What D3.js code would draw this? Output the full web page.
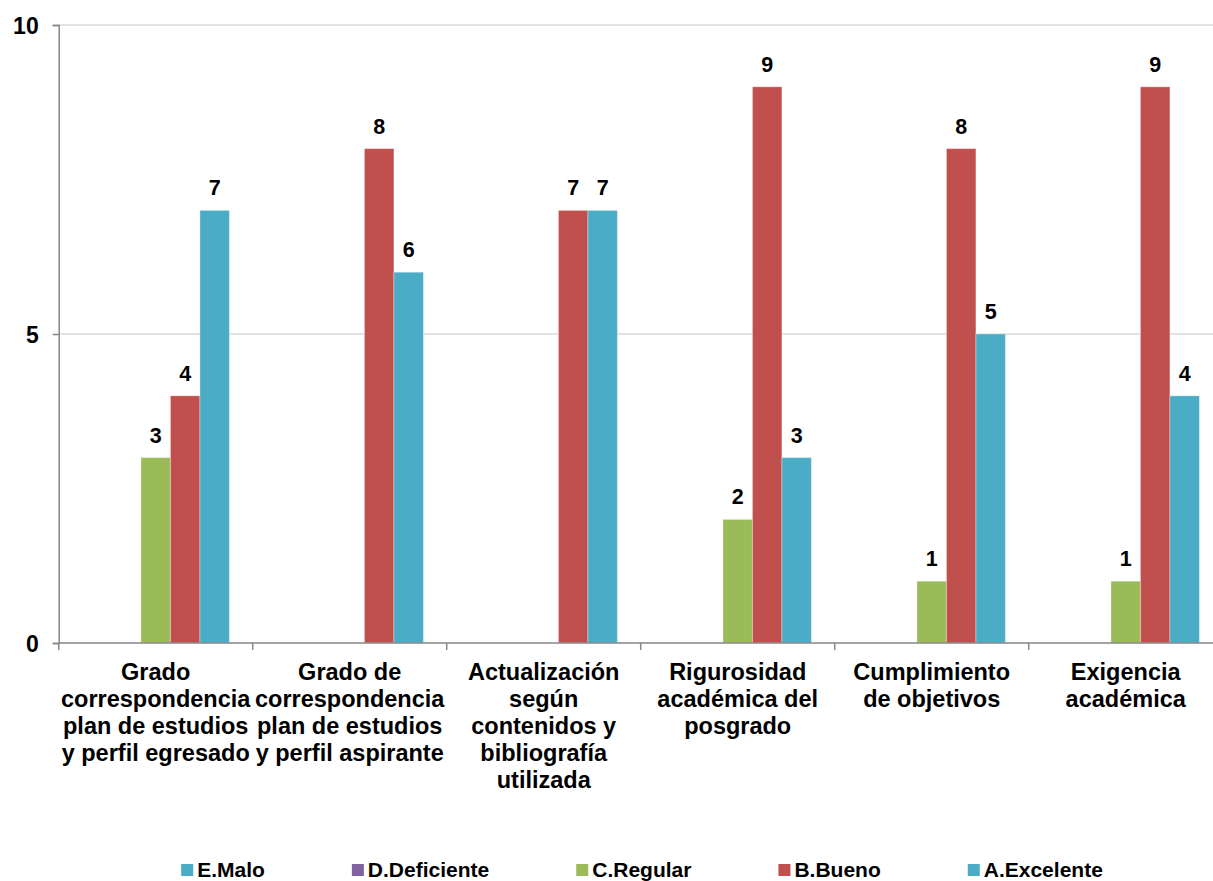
<!DOCTYPE html>
<html>
<head>
<meta charset="utf-8">
<script src="https://cdn.jsdelivr.net/npm/d3@7"></script>
<style>
  body { margin: 0; background: #fff; }
  text { font-family: "Liberation Sans", Arial, sans-serif; font-weight: bold; fill: #000; }
</style>
</head>
<body>
<div id="chart"></div>
<script>
// data
var categories = [
  ["Grado", "correspondencia", "plan de estudios", "y perfil egresado"],
  ["Grado de", "correspondencia", "plan de estudios", "y perfil aspirante"],
  ["Actualización", "según", "contenidos y", "bibliografía", "utilizada"],
  ["Rigurosidad", "académica del", "posgrado"],
  ["Cumplimiento", "de objetivos"],
  ["Exigencia", "académica"]
];
var seriesNames = ["E.Malo", "D.Deficiente", "C.Regular", "B.Bueno", "A.Excelente"];
var seriesColors = ["#4BACC6", "#8064A2", "#9BBB59", "#C0504D", "#4BACC6"];
var malo       = [0, 0, 0, 0, 0, 0];
var deficiente = [0, 0, 0, 0, 0, 0];
var regular    = [3, 0, 0, 2, 1, 1];
var bueno      = [4, 8, 7, 9, 8, 9];
var excelente  = [7, 6, 7, 3, 5, 4];
var seriesValues = [malo, deficiente, regular, bueno, excelente];
var yTicks = [0, 5, 10];

// set the dimensions
var W = 1213, H = 881;
var plot = {left: 58.7, right: 1222.7, top: 25, bottom: 643};

var svg = d3.select("#chart")
  .append("svg")
    .attr("width", W)
    .attr("height", H);

var idx = d3.range(categories.length);

// scales
var x0 = d3.scaleBand()
    .domain(idx)
    .range([plot.left, plot.right])
    .paddingInner(0)
    .paddingOuter(0);
var x1 = d3.scaleBand()
    .domain(d3.range(seriesNames.length))
    .range([0, x0.bandwidth()])
    .paddingOuter(0.79);
var y = d3.scaleLinear()
    .domain([0, 10])
    .range([plot.bottom, plot.top]);

// gridlines
svg.append("g")
  .selectAll("line")
  .data(yTicks.filter(function(d) { return d > 0; }))
  .enter()
  .append("line")
    .attr("x1", plot.left)
    .attr("x2", W)
    .attr("y1", function(d) { return y(d); })
    .attr("y2", function(d) { return y(d); })
    .style("stroke", "#D9D9D9")
    .style("stroke-width", 1.3);

// bars
var groups = svg.append("g")
  .selectAll("g")
  .data(seriesValues)
  .enter()
  .append("g")
    .style("fill", function(d, i) { return seriesColors[i]; });

groups.selectAll("rect")
  .data(function(vals, s) { return vals.map(function(v, c) { return {s: s, c: c, v: v}; }); })
  .enter()
  .filter(function(d) { return d.v > 0; })
  .append("rect")
    .attr("x", function(d) { return x0(d.c) + x1(d.s); })
    .attr("y", function(d) { return y(d.v); })
    .attr("width", x1.bandwidth())
    .attr("height", function(d) { return y(0) - y(d.v); })
    .style("stroke", "rgba(255,255,255,0.35)")
    .style("stroke-width", 1);

// data labels
groups.selectAll("text")
  .data(function(vals, s) { return vals.map(function(v, c) { return {s: s, c: c, v: v}; }); })
  .enter()
  .filter(function(d) { return d.v > 0; })
  .append("text")
    .attr("x", function(d) { return x0(d.c) + x1(d.s) + x1.bandwidth() / 2; })
    .attr("y", function(d) { return y(d.v) - 15; })
    .attr("text-anchor", "middle")
    .style("font-size", "21.5px")
    .style("fill", "#000")
    .text(function(d) { return d.v; });

// Y axis
var yAxis = svg.append("g")
    .attr("transform", "translate(" + plot.left + ",0)")
    .call(d3.axisLeft(y).tickValues(yTicks).tickSize(6).tickPadding(14));
yAxis.select(".domain").style("stroke", "#868686").style("stroke-width", 1.5);
yAxis.selectAll(".tick line").style("stroke", "#868686").style("stroke-width", 1.5);
yAxis.selectAll(".tick text")
    .style("font-size", "23px")
    .style("font-family", "'Liberation Sans', Arial, sans-serif")
    .style("font-weight", "bold")
    .attr("dy", "0.36em");

// X axis
var xAxis = svg.append("g")
    .attr("transform", "translate(0," + plot.bottom + ")");
xAxis.append("line")
    .attr("x1", plot.left)
    .attr("x2", W)
    .style("stroke", "#868686")
    .style("stroke-width", 1.5);
xAxis.selectAll(".xtick")
  .data(d3.range(categories.length + 1))
  .enter()
  .append("line")
    .attr("class", "xtick")
    .attr("x1", function(d) { return plot.left + d * x0.step(); })
    .attr("x2", function(d) { return plot.left + d * x0.step(); })
    .attr("y1", 0)
    .attr("y2", 7)
    .style("stroke", "#868686")
    .style("stroke-width", 1.5);

// category labels
var catText = svg.append("g")
  .selectAll("text")
  .data(categories)
  .enter()
  .append("text")
    .attr("text-anchor", "middle")
    .attr("transform", function(d, i) { return "translate(" + (x0(i) + x0.bandwidth() / 2) + "," + 680 + ")"; })
    .style("font-size", "23.5px");
catText.selectAll("tspan")
  .data(function(d) { return d; })
  .enter()
  .append("tspan")
    .attr("x", 0)
    .attr("y", function(d, i) { return i * 27; })
    .text(function(d) { return d; });

// Handmade legend
var legend = svg.append("g");
var items = legend.selectAll("g")
  .data(seriesNames)
  .enter()
  .append("g");
items.append("rect")
    .attr("width", 12)
    .attr("height", 12)
    .attr("y", 864)
    .style("fill", function(d, i) { return seriesColors[i]; });
items.append("text")
    .attr("x", 16)
    .attr("y", 877)
    .style("font-size", "21px")
    .text(function(d) { return d; });

var gap = 87, pos = [], cur = 0;
items.each(function(d, i) {
  pos.push(cur);
  cur += 16 + this.querySelector("text").getComputedTextLength() + gap;
});
var total = cur - gap;
var start = 642 - total / 2;
items.attr("transform", function(d, i) { return "translate(" + (start + pos[i]) + ",0)"; });
</script>
</body>
</html>
